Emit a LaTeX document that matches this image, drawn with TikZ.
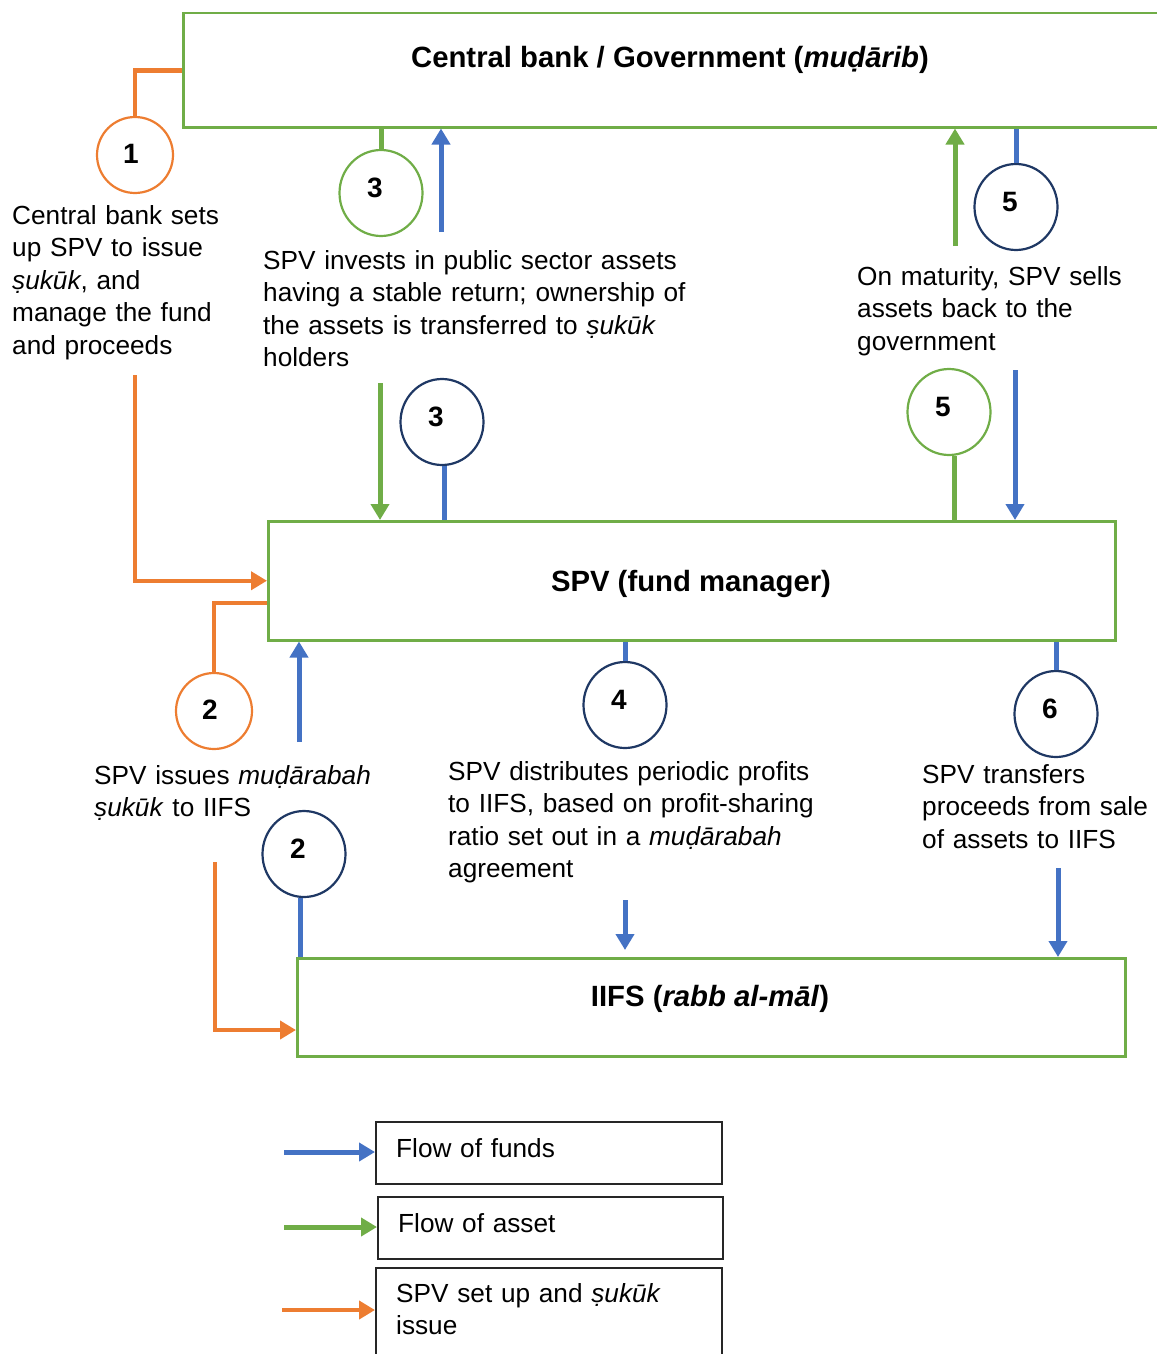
\documentclass[tikz,border=0pt]{standalone}
\usepackage{fontspec}
\setmainfont{Liberation Sans}
\usetikzlibrary{arrows.meta,shapes.geometric}
\definecolor{corange}{HTML}{ED7D31}
\definecolor{cgreen}{HTML}{70AD47}
\definecolor{cblue}{HTML}{4472C4}
\definecolor{cnavy}{HTML}{1F3864}
\definecolor{cframe}{HTML}{262626}
\begin{document}
\begin{tikzpicture}[x=1pt,y=-1pt,
  mainbox/.style={draw=cgreen, line width=2.5pt, rectangle, inner sep=0pt},
  legbox/.style={draw=cframe, line width=1.5pt, rectangle, inner sep=0pt},
  numtxt/.style={font=\fontsize{28}{30}\selectfont\bfseries, inner sep=0pt},
  numc/.style={ellipse, line width=2.2pt, inner sep=0pt, minimum width=83pt, minimum height=86pt},
  numo/.style={numc, draw=corange, minimum width=76pt, minimum height=76pt,
    label={[numtxt, xshift=-4pt, yshift=1pt]center:#1}},
  numg/.style={numc, draw=cgreen, label={[numtxt, xshift=-6pt, yshift=5pt]center:#1}},
  numn/.style={numc, draw=cnavy, label={[numtxt, xshift=-6pt, yshift=5pt]center:#1}},
  txt/.style={font=\fontsize{26.2}{32.5}\selectfont, inner sep=0pt, align=left, text width=470pt, anchor=base west},
  ttl/.style={font=\fontsize{29.3}{32}\selectfont\bfseries, inner sep=0pt, anchor=base},
  tipx/.style={-{Triangle[width=18pt,length=16pt]}},
  oline/.style={draw=corange, line width=4.5pt},
  gline/.style={draw=cgreen, line width=5pt},
  bline/.style={draw=cblue, line width=5pt},
  oarrow/.style={oline, tipx},
  garrow/.style={gline, tipx},
  barrow/.style={bline, tipx}
]
\useasboundingbox (0,0) rectangle (1156,1354);

% main boxes
\node[mainbox, minimum width=982pt, minimum height=114pt, anchor=north west] (cb) at (182,12) {};
\node[ttl] (cbt) at (670,67) {Central bank / Government (\textit{muḍārib})};
\node[mainbox, minimum width=847pt, minimum height=119pt, anchor=north west] (spv) at (267,520) {};
\node[ttl] (spvt) at (691,591) {SPV (fund manager)};
\node[mainbox, minimum width=828pt, minimum height=98pt, anchor=north west] (iifs) at (296,957) {};
\node[ttl] (iifst) at (710,1006) {IIFS (\textit{rabb al-māl})};

% numbered circles
\node[numo=1] (c1) at (135,155) {};
\node[numg=3] (g3) at (381,193) {};
\node[numn=5] (n5) at (1016,207) {};
\node[numn=3] (n3) at (442,422) {};
\node[numg=5] (g5) at (949,412) {};
\node[numo=2] (c2) at (214,711) {};
\node[numn=2] (n2) at (304,854) {};
\node[numn=4] (n4) at (625,705) {};
\node[numn=6] (n6) at (1056,714) {};

% texts
\node[txt] (t1) at (12,224) {Central bank sets\\up SPV to issue\\\textit{ṣukūk}, and\\manage the fund\\and proceeds};
\node[txt] (t3) at (263,269) {SPV invests in public sector assets\\having a stable return; ownership of\\the assets is transferred to \textit{ṣukūk}\\holders};
\node[txt] (t5) at (857,285) {On maturity, SPV sells\\assets back to the\\government};
\node[txt] (t2) at (94,784) {SPV issues \textit{muḍārabah}\\\textit{ṣukūk} to IIFS};
\node[txt] (t4) at (448,780) {SPV distributes periodic profits\\to IIFS, based on profit-sharing\\ratio set out in a \textit{muḍārabah}\\agreement};
\node[txt] (t6) at (922,783) {SPV transfers\\proceeds from sale\\of assets to IIFS};

% step 1 (orange)
\draw[oline] (cb.west) -| (c1.north);
\coordinate (o1s) at (135,375);
\draw[oarrow] (o1s) |- (spv.west);
% step 2
\draw[oline] (spv.west |- 0,603) -| (c2.north);
\coordinate (o2s) at (215,862);
\draw[oarrow] (o2s) |- (iifs.west |- 0,1030);
\coordinate (b2s) at (299,742);
\draw[barrow] (b2s) -- (b2s |- spv.south);
\draw[bline] (n2.south -| 300,0) -- (300,0 |- iifs.north);
% step 3
\draw[gline] (g3.north) -- (g3.north |- cb.south);
\coordinate (b3s) at (441,232);
\draw[barrow] (b3s) -- (b3s |- cb.south);
\coordinate (g3s) at (380,383);
\draw[garrow] (g3s) -- (g3s |- spv.north);
\draw[bline] (n3.south -| 444,0) -- (444,0 |- spv.north);
% step 4
\draw[bline] (n4.north) -- (n4.north |- spv.south);
\coordinate (b4s) at (625,900);
\draw[barrow, shorten >=7pt] (b4s) -- (b4s |- iifs.north);
% step 5
\coordinate (g5s) at (955,246);
\draw[garrow] (g5s) -- (g5s |- cb.south);
\draw[bline] (n5.north) -- (n5.north |- cb.south);
\draw[gline] (g5.south -| 954,0) -- (954,0 |- spv.north);
\coordinate (b5s) at (1015,370);
\draw[barrow] (b5s) -- (b5s |- spv.north);
% step 6
\draw[bline] (n6.north) -- (n6.north |- spv.south);
\coordinate (b6s) at (1058,868);
\draw[barrow] (b6s) -- (b6s |- iifs.north);

% legend
\node[legbox, minimum width=346pt, minimum height=62pt, anchor=north west] (lf) at (375,1121) {};
\node[txt] (lft) at (396,1157) {Flow of funds};
\node[legbox, minimum width=345pt, minimum height=62pt, anchor=north west] (la) at (377,1196) {};
\node[txt] (lat) at (398,1232) {Flow of asset};
\node[legbox, minimum width=346pt, minimum height=150pt, anchor=north west] (ls) at (375,1267) {};
\node[txt] (lst) at (396,1302) {SPV set up and \textit{ṣukūk}\\issue};
\coordinate (lfs) at (284,1152);
\draw[barrow] (lfs) -- (lfs -| lf.west);
\coordinate (las) at (284,1227);
\draw[garrow] (las) -- (las -| la.west);
\coordinate (lss) at (282,1310);
\draw[oarrow] (lss) -- (lss -| ls.west);
\end{tikzpicture}
\end{document}
